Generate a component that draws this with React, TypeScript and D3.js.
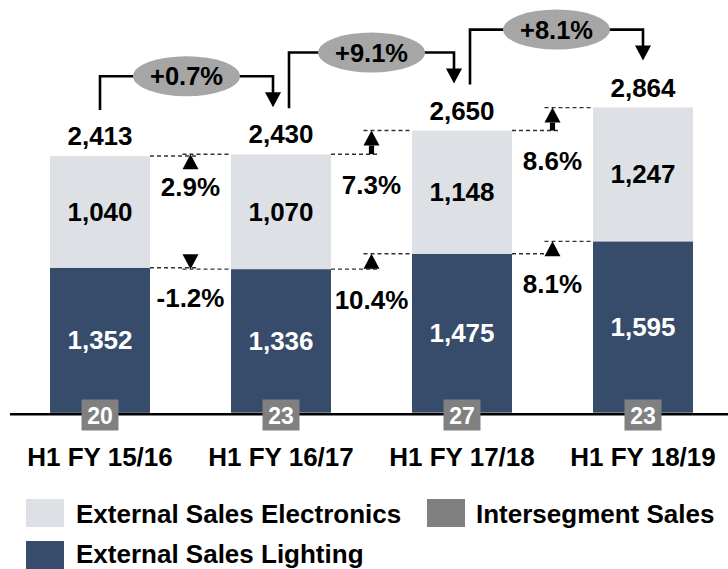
import * as d3 from "d3";

const categories = ["H1 FY 15/16", "H1 FY 16/17", "H1 FY 17/18", "H1 FY 18/19"];
const intersegment = [20, 23, 27, 23];
const lighting = [1352, 1336, 1475, 1595];
const electronics = [1040, 1070, 1148, 1247];
const totals = [2413, 2430, 2650, 2864];
const totalGrowth = [0.7, 9.1, 8.1];
const electronicsGrowth = [2.9, 7.3, 8.6];
const lightingGrowth = [-1.2, 10.4, 8.1];

const W = 728;
const H = 569;
const FONT = "'Liberation Sans', Arial, sans-serif";
const C_LIGHT = "#374B6B";
const C_ELEC = "#DDE1E6";
const C_INTER = "#808080";
const C_OVAL = "#A6A6A6";

const fmt = d3.format(",");
const fmtPct = (v: number, sign: boolean) =>
  `${sign && v > 0 ? "+" : ""}${v.toFixed(1)}%`;

type Row = { cat: string; inter: number; lighting: number; electronics: number };

const rows: Row[] = categories.map((c, i) => ({
  cat: c,
  inter: intersegment[i],
  lighting: lighting[i],
  electronics: electronics[i],
}));

const x = d3
  .scaleBand<string>()
  .domain(categories)
  .range([9.5, 733.5])
  .paddingInner(0.4475)
  .paddingOuter(0.22375);

const y = d3.scaleLinear().domain([0, 3000]).range([415, 93]);

const keys = ["inter", "lighting", "electronics"];
const colors: Record<string, string> = {
  inter: C_INTER,
  lighting: C_LIGHT,
  electronics: C_ELEC,
};
const stacked = d3.stack<Row>().keys(keys)(rows);

// small arrow between two levels, tip at y2
function levelArrow(cx: number, y1: number, y2: number, up: boolean) {
  const hh = 15;
  const hw = 8;
  const sw = 2.6;
  const dir = up ? 1 : -1;
  const base = y2 + dir * hh;
  const parts = [
    <path
      key="h"
      d={`M${cx},${y2} L${cx - hw},${base} L${cx + hw},${base} Z`}
      fill="#000"
    />,
  ];
  if ((up && y1 > base) || (!up && y1 < base)) {
    parts.push(
      <rect
        key="s"
        x={cx - sw}
        width={sw * 2}
        y={Math.min(base, y1)}
        height={Math.abs(y1 - base)}
        fill="#000"
      />
    );
  }
  return parts;
}

export default function App() {
  const bw = x.bandwidth();
  const center = (i: number) => (x(categories[i]) ?? 0) + bw / 2;
  const lightTop = (i: number) => y(intersegment[i] + lighting[i]);
  const totTop = (i: number) => y(totals[i]);

  const gaps = d3.range(categories.length - 1);

  return (
    <svg
      width={W}
      height={H}
      style={{ position: "absolute", left: 0, top: 0, fontFamily: FONT }}
    >
      <rect width={W} height={H} fill="#fff" />

      {/* stacked bars */}
      {stacked.map((s) => (
        <g key={s.key} fill={colors[s.key]}>
          {s.map((d, i) => (
            <rect
              key={i}
              x={x(d.data.cat)}
              y={y(d[1])}
              width={bw}
              height={y(d[0]) - y(d[1])}
            />
          ))}
        </g>
      ))}

      {/* segment values */}
      {rows.map((r, i) => (
        <g key={r.cat} fontWeight="bold" fontSize={26} textAnchor="middle">
          <text
            x={center(i)}
            y={(lightTop(i) + totTop(i)) / 2 + 9}
            fill="#000"
          >
            {fmt(r.electronics)}
          </text>
          <text
            x={center(i)}
            y={(lightTop(i) + y(r.inter)) / 2 + 9}
            fill="#fff"
          >
            {fmt(r.lighting)}
          </text>
          <text x={center(i)} y={totTop(i) - 11} fill="#000">
            {fmt(totals[i])}
          </text>
        </g>
      ))}

      {/* axis line */}
      <line x1={10} x2={W} y1={414.2} y2={414.2} stroke="#000" strokeWidth={2.6} />

      {/* intersegment boxes */}
      {rows.map((r, i) => (
        <g key={`is${i}`}>
          <rect x={center(i) - 18.5} y={399.5} width={37} height={31} fill={C_INTER} />
          <text
            x={center(i)}
            y={424}
            textAnchor="middle"
            fontWeight="bold"
            fontSize={23}
            fill="#fff"
          >
            {r.inter}
          </text>
        </g>
      ))}

      {/* category labels */}
      {categories.map((c, i) => (
        <text
          key={c}
          x={center(i)}
          y={466}
          textAnchor="middle"
          fontWeight="bold"
          fontSize={26}
          fill="#000"
        >
          {c}
        </text>
      ))}

      {/* growth between bars */}
      {gaps.map((g) => {
        const R = (x(categories[g]) ?? 0) + bw;
        const L = x(categories[g + 1]) ?? 0;
        const m = (R + L) / 2;
        const levels = [
          { y1: totTop(g), y2: totTop(g + 1), v: electronicsGrowth[g] },
          { y1: lightTop(g), y2: lightTop(g + 1), v: lightingGrowth[g] },
        ];
        return (
          <g key={`gap${g}`}>
            {levels.map((lv, k) => (
              <g key={k}>
                <line
                  x1={R}
                  x2={m + 8}
                  y1={lv.y1}
                  y2={lv.y1}
                  stroke="#333"
                  strokeWidth={1.4}
                  strokeDasharray="4 3"
                />
                <line
                  x1={m - 8}
                  x2={L}
                  y1={lv.y2}
                  y2={lv.y2}
                  stroke="#333"
                  strokeWidth={1.4}
                  strokeDasharray="4 3"
                />
                {levelArrow(m, lv.y1, lv.y2, lv.v >= 0)}
                <text
                  x={m}
                  y={lv.y1 + 39.5}
                  textAnchor="middle"
                  fontWeight="bold"
                  fontSize={26}
                  fill="#000"
                >
                  {fmtPct(lv.v, false)}
                </text>
              </g>
            ))}
          </g>
        );
      })}

      {/* total growth brackets */}
      {gaps.map((g) => {
        const x1 = center(g) + (g > 0 ? 8 : 0);
        const x2 = center(g + 1) - (g + 1 < categories.length - 1 ? 8 : 0);
        const hy = totTop(g + 1) - 78;
        const sy = totTop(g) - 46;
        const tip = hy + 31;
        const mx = (x1 + x2) / 2;
        return (
          <g key={`br${g}`}>
            <path
              d={`M${x1},${sy} V${hy} H${x2} V${tip - 14}`}
              fill="none"
              stroke="#000"
              strokeWidth={2.6}
            />
            <path
              d={`M${x2},${tip} L${x2 - 8},${tip - 15} L${x2 + 8},${tip - 15} Z`}
              fill="#000"
            />
            <ellipse cx={mx} cy={hy} rx={53.5} ry={20} fill={C_OVAL} />
            <text
              x={mx}
              y={hy + 9}
              textAnchor="middle"
              fontWeight="bold"
              fontSize={25.5}
              fill="#000"
            >
              {fmtPct(totalGrowth[g], true)}
            </text>
          </g>
        );
      })}

      {/* legend */}
      <g fontWeight="bold" fontSize={26} fill="#000">
        <rect x={26} y={499} width={38} height={28} fill={C_ELEC} />
        <text x={76} y={523}>External Sales Electronics</text>
        <rect x={427} y={499} width={38} height={28} fill={C_INTER} />
        <text x={476} y={523}>Intersegment Sales</text>
        <rect x={26} y={541} width={38} height={28} fill={C_LIGHT} />
        <text x={76} y={563}>External Sales Lighting</text>
      </g>
    </svg>
  );
}
